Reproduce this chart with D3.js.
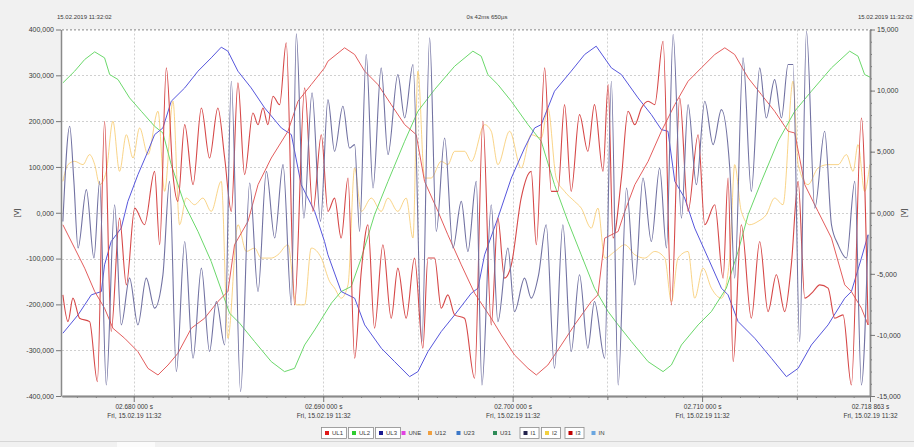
<!DOCTYPE html>
<html>
<head>
<meta charset="utf-8">
<script src="https://cdn.jsdelivr.net/npm/d3@7"></script>
<style>
html, body { margin: 0; padding: 0; background: #f1f1f1; }
svg { display: block; font-family: "Liberation Sans", Arial, sans-serif; }
</style>
</head>
<body>
<div id="chart"></div>
<script>
// time in ms (seconds part of 11:32:02.xxx), voltages in V, currents in A
const UL1 = [[2676.26,-26.2],[2676.88,-77.2],[2677.41,-121],[2677.94,-172],[2678.46,-208.4],[2678.90,-252.1],[2679.52,-274],[2680.22,-303.1],[2680.75,-339.6],[2681.28,-354.1],[2681.81,-332.3],[2682.33,-306.8],[2683.04,-252.1],[2683.74,-230.3],[2684.44,-193.8],[2684.97,-172],[2685.32,-70],[2686.03,-18.9],[2686.56,61.2],[2687.26,119.5],[2688.14,177.8],[2688.67,243.4],[2689.37,279.8],[2690.07,316.3],[2690.25,330.8],[2691.13,360],[2691.66,345.4],[2692.19,309],[2692.89,279.8],[2693.59,236.1],[2694.30,192.4],[2694.91,170.5],[2695.35,68.5],[2696.06,2.9],[2696.58,-48.1],[2697.29,-113.7],[2697.99,-175.6],[2698.87,-230.3],[2699.40,-266.7],[2700.10,-310.4],[2700.81,-339.6],[2701.25,-354.1],[2701.86,-332.3],[2702.57,-288.6],[2703.27,-244.8],[2704.15,-193.8],[2704.50,-179.2],[2704.86,-55.4],[2705.57,-40.8],[2705.92,2.9],[2706.45,61.2],[2707.15,112.2],[2707.85,177.8],[2708.56,236.1],[2709.26,287.1],[2709.96,316.3],[2710.67,345.4],[2711.20,360],[2711.72,345.4],[2712.43,294.4],[2713.13,258],[2713.83,221.5],[2714.54,177.8],[2714.89,174.2],[2715.42,61.2],[2716.12,2.9],[2716.83,-55.4],[2717.53,-157.4],[2717.88,-172],[2718.41,-208.4],[2718.76,-244.8]];

const UL2 = [[2676.26,283.5],[2676.88,309],[2677.41,334.5],[2677.94,351.2],[2678.46,338.1],[2678.73,301.7],[2679.17,290.8],[2679.78,250.7],[2680.40,221.5],[2681.10,188.7],[2681.54,174.2],[2681.98,105],[2682.69,17.5],[2683.39,-40.8],[2684.09,-106.4],[2684.62,-168.3],[2685.06,-219.3],[2685.59,-241.2],[2686.38,-281.3],[2687.26,-325],[2687.96,-346.8],[2688.49,-339.6],[2689.02,-288.6],[2689.55,-255.8],[2690.43,-197.5],[2690.95,-172],[2691.48,-161],[2692.01,-99.1],[2692.71,-4.4],[2693.42,68.5],[2694.30,156],[2695.00,221.5],[2695.88,268.9],[2696.94,319.9],[2697.90,352.7],[2698.34,341.8],[2698.69,301.7],[2699.22,279.8],[2699.93,243.4],[2700.81,192.4],[2701.51,156],[2702.21,61.2],[2702.92,-18.9],[2703.62,-91.8],[2704.32,-164.7],[2705.04,-215.7],[2705.57,-244.8],[2706.27,-281.3],[2707.15,-325],[2707.94,-346.8],[2708.38,-332.3],[2708.91,-288.6],[2709.79,-244.8],[2710.49,-215.7],[2711.28,-164.7],[2711.90,-84.5],[2712.43,-4.4],[2713.13,68.5],[2714.01,156],[2714.89,221.5],[2715.77,265.3],[2716.83,316.3],[2717.79,352.7],[2718.23,341.8],[2718.58,301.7],[2718.94,294.4]];

const UL3 = [[2676.26,-263],[2677.06,-223],[2677.76,-179.2],[2678.29,-172],[2678.46,-113.7],[2678.81,-62.7],[2679.34,-33.5],[2679.69,24.8],[2680.22,83.1],[2680.75,134.1],[2681.10,170.5],[2681.54,185.1],[2681.98,243.4],[2682.69,272.5],[2683.39,309],[2684.09,338.1],[2684.62,361.4],[2684.97,352.7],[2685.50,309],[2686.20,272.5],[2686.91,228.8],[2687.79,185.1],[2688.32,170.5],[2688.84,61.2],[2689.55,2.9],[2690.07,-62.7],[2690.25,-91.8],[2690.95,-172],[2691.66,-186.5],[2692.19,-244.8],[2693.07,-295.8],[2693.77,-325],[2694.56,-357.8],[2695.00,-346.8],[2695.53,-303.1],[2696.23,-259.4],[2696.94,-223],[2697.82,-175.6],[2698.17,-164.7],[2698.52,-91.8],[2699.22,-11.6],[2699.93,75.8],[2700.63,141.4],[2701.16,185.1],[2701.51,192.4],[2702.21,265.3],[2703.09,309],[2703.80,345.4],[2704.41,363.6],[2705.21,316.3],[2705.74,301.7],[2706.62,250.7],[2707.32,214.3],[2707.85,181.5],[2708.20,177.8],[2708.56,68.5],[2709.08,32.1],[2709.61,-33.5],[2710.32,-99.1],[2711.02,-164.7],[2711.37,-179.2],[2711.90,-237.5],[2712.78,-274],[2713.66,-317.7],[2714.45,-357.8],[2715.07,-339.6],[2715.77,-288.6],[2716.65,-244.8],[2717.53,-186.5],[2717.88,-172],[2718.41,-99.1],[2718.76,-48.1]];

const I1 = [[2676.26,-0.71],[2676.62,7.08],[2676.84,2.57],[2677.06,-2.89],[2677.50,1.89],[2677.90,-3.71],[2678.20,2.57],[2678.55,-14.10],[2678.99,0.66],[2679.34,-9.18],[2679.78,-5.35],[2680.22,-9.18],[2680.66,-5.35],[2681.10,-7.81],[2681.54,-5.08],[2681.89,2.57],[2682.25,-13.00],[2682.69,-2.35],[2683.13,-11.91],[2683.57,-4.53],[2684.00,-11.36],[2684.36,-7.27],[2684.80,-10.82],[2685.15,10.77],[2685.64,-14.64],[2686.12,2.43],[2686.56,-6.45],[2687.00,3.39],[2687.44,-2.07],[2687.88,3.94],[2688.32,-7.54],[2688.58,14.64],[2688.98,-0.44],[2689.41,9.81],[2689.86,-0.71],[2690.25,9.26],
  [2690.60,5.03],[2691.04,8.72],[2691.39,5.30],[2691.66,5.58],[2691.92,-1.53],[2692.27,12.95],[2692.63,2.02],[2693.06,11.86],[2693.42,4.76],[2693.94,11.31],[2694.30,7.76],[2694.74,12.13],[2695.21,-10.55],[2695.62,14.32],[2695.97,-1.53],[2696.41,6.12],[2696.85,-2.89],[2697.29,0.93],[2697.64,-3.17],[2698.08,2.57],[2698.38,-14.10],[2698.87,0.66],[2699.22,-8.91],[2699.75,-2.89],[2700.10,-8.09],[2700.63,-5.35],[2700.98,-6.99],[2701.37,-5.08],[2701.77,-0.98],[2702.21,-12.73],[2702.65,-0.98],[2703.09,-11.36],[2703.53,-5.08],[2703.97,-11.09],[2704.32,-7.27],
  [2704.86,-11.91],[2705.21,10.77],[2705.57,-14.10],[2706.01,2.02],[2706.45,-5.90],[2706.88,2.84],[2707.32,-2.35],[2707.76,3.66],[2708.12,-2.89],[2708.47,14.59],[2708.91,-0.44],[2709.26,8.85],[2709.70,2.30],[2710.14,9.13],[2710.58,5.58],[2711.02,8.44],[2711.46,3.66],[2711.72,-5.35],[2712.16,12.68],[2712.60,1.75],[2713.04,11.86],[2713.39,7.76],[2713.83,10.90],[2714.19,7.76],[2714.54,12.13],[2714.80,12.13],[2715.15,-10.55],[2715.51,14.86],[2715.95,0.38],[2716.47,6.67],[2716.83,-0.98],[2717.18,-2.62],[2717.62,-3.71],[2718.06,2.57],[2718.41,-14.10],[2718.76,-1.80]];

const I2 = [[2676.26,2.57],[2676.53,3.94],[2676.88,4.21],[2677.32,3.94],[2677.67,4.76],[2677.94,3.94],[2678.20,2.30],[2678.55,3.39],[2678.90,7.49],[2679.25,3.39],[2679.61,6.39],[2679.96,4.48],[2680.31,6.94],[2680.75,4.76],[2681.28,8.31],[2681.63,1.75],[2682.07,9.13],[2682.42,-0.98],[2682.77,1.20],[2683.21,0.66],[2683.65,1.20],[2684.09,0.11],[2684.62,2.57],[2684.97,-10.27],[2685.50,-0.98],[2685.94,-3.17],[2686.38,-2.89],[2686.73,-3.71],[2687.26,-3.71],[2687.61,-3.44],[2688.14,-2.62],[2688.58,-7.54],[2689.02,-7.54],[2689.37,-2.89],[2689.90,-3.71],[2690.34,-5.63],
  [2690.60,-6.17],[2690.95,-6.99],[2691.31,-5.90],[2691.66,3.66],[2692.01,0.11],[2692.54,1.20],[2693.06,0.11],[2693.42,1.20],[2693.94,0.11],[2694.38,1.20],[2694.74,-2.07],[2695.00,11.59],[2695.35,2.84],[2695.70,2.84],[2696.23,4.21],[2696.58,3.94],[2696.94,5.03],[2697.46,5.03],[2697.82,4.21],[2698.52,7.21],[2698.87,6.67],[2699.22,3.94],[2699.84,6.67],[2700.45,3.66],[2700.98,6.39],[2701.51,6.12],[2701.86,8.58],[2702.30,2.84],[2702.74,1.75],[2703.27,0.93],[2703.62,0.38],[2704.15,-1.26],[2704.50,0.38],
  [2704.86,-3.71],[2705.39,-3.17],[2705.92,-2.62],[2706.45,-3.44],[2706.97,-3.71],[2707.50,-3.17],[2708.03,-3.71],[2708.38,-7.27],[2708.73,-3.71],[2709.26,-3.17],[2709.61,-6.99],[2710.05,-4.53],[2710.49,-6.17],[2711.02,-6.99],[2711.46,-3.71],[2711.72,3.94],[2712.07,0.11],[2712.51,-0.98],[2712.95,-0.71],[2713.39,-0.16],[2713.83,1.20],[2714.27,0.66],[2714.80,10.77],[2715.07,3.94],[2715.59,2.30],[2716.12,3.66],[2716.65,3.94],[2717.18,3.94],[2717.62,4.76],[2717.97,3.39],[2718.23,5.58],[2718.58,1.75],[2718.85,3.94]];

const I3 = [[2676.26,-6.72],[2676.53,-8.91],[2676.79,-6.99],[2677.14,-8.63],[2677.67,-8.91],[2678.08,-13.82],[2678.46,7.49],[2678.81,-9.72],[2679.25,-0.44],[2679.61,-5.90],[2680.05,0.38],[2680.57,-0.98],[2681.10,3.39],[2681.37,-2.62],[2681.72,11.86],[2682.07,3.12],[2682.33,0.93],[2682.69,7.21],[2683.13,2.30],[2683.57,8.58],[2684.00,4.48],[2684.44,8.58],[2684.80,4.48],[2685.15,0.11],[2685.50,10.63],[2685.85,3.12],[2686.29,8.17],[2686.56,7.21],[2686.82,8.58],[2687.08,7.21],[2687.35,9.54],[2687.70,8.85],[2688.05,13.91],[2688.49,-7.54],[2689.02,10.22],[2689.46,0.11],[2689.90,6.39],[2690.25,0.11],
  [2690.60,1.20],[2690.95,-2.07],[2691.31,2.84],[2691.66,-11.91],[2692.01,-4.81],[2692.36,-0.98],[2692.71,-9.45],[2693.15,-2.62],[2693.59,-8.63],[2693.94,-4.53],[2694.38,-8.63],[2694.82,-3.71],[2695.26,-11.09],[2695.53,-3.71],[2695.88,-3.71],[2696.23,-7.81],[2696.58,-6.72],[2696.94,-8.36],[2697.46,-8.63],[2697.99,-13.55],[2698.43,7.49],[2698.87,-9.18],[2699.22,-0.44],[2699.57,-5.35],[2699.93,-4.26],[2700.45,1.20],[2700.98,3.39],[2701.25,-2.62],[2701.69,11.86],[2702.04,1.75],[2702.39,1.75],[2702.74,8.85],[2703.09,1.75],[2703.53,8.03],[2703.97,5.03],[2704.32,8.85],
  [2704.77,3.39],[2705.04,10.49],[2705.30,-2.07],[2705.74,2.84],[2706.09,8.31],[2706.45,7.21],[2706.80,8.58],[2707.15,9.13],[2707.50,8.85],[2707.94,14.04],[2708.38,-7.54],[2708.82,9.40],[2709.26,0.11],[2709.79,6.39],[2710.14,-0.98],[2710.67,0.66],[2711.11,-5.35],[2711.37,2.84],[2711.64,-12.18],[2712.07,-0.98],[2712.60,-8.63],[2713.04,-2.35],[2713.48,-8.09],[2713.92,-5.08],[2714.36,-8.09],[2714.71,-4.26],[2715.07,2.57],[2715.42,-6.99],[2715.86,-6.45],[2716.21,-5.90],[2716.65,-6.17],[2717.00,-8.63],[2717.44,-8.36],[2717.88,-14.10],[2718.41,7.76],[2718.76,-9.18]];

const timeStart = 2676.213;
const timeEnd = 2718.863;
const timeTicks = [2680, 2690, 2700, 2710, 2718.863];
const voltTicks = [-400, -300, -200, -100, 0, 100, 200, 300, 400];
const ampTicks = [-15, -10, -5, 0, 5, 10, 15];
const dateLabel = "Fri, 15.02.19 11:32";

const legendNames = ["UL1", "UL2", "UL3", "UNE", "U12", "U23", "U31", "I1", "I2", "I3", "IN"];
const legendColors = ["#e01818", "#2fcc2f", "#1a1a90", "#e040e0", "#f0a040", "#3c78c8", "#2e8b57", "#24244e", "#f2d040", "#c00000", "#6aa6e0"];
const legendShown = [true, true, true, false, false, false, false, true, true, true, false];

const width = 914, height = 447;
const plot = { left: 62, right: 870, top: 29.5, bottom: 396 };

const svg = d3.select("#chart").append("svg")
  .attr("width", width).attr("height", height);

svg.append("rect").attr("width", width).attr("height", height).attr("fill", "#f1f1f1");
svg.append("rect")
  .attr("x", plot.left).attr("y", plot.top)
  .attr("width", plot.right - plot.left).attr("height", plot.bottom - plot.top)
  .attr("fill", "#ffffff");

const x = d3.scaleLinear().domain([timeStart, timeEnd]).range([plot.left, plot.right]);
const yV = d3.scaleLinear().domain([-400, 400]).range([plot.bottom, plot.top]);
const yI = d3.scaleLinear().domain([-15, 15]).range([plot.bottom, plot.top]);

const loc = d3.formatLocale({ decimal: ",", thousands: ".", grouping: [3], currency: ["", ""], minus: "-" });
const fmtVal = loc.format(".3f");

function fmtTime(t) {
  const s = t / 1000;
  const whole = Math.floor(s);
  const f = String(Math.round((s - whole) * 1e6)).padStart(6, "0");
  return String(whole).padStart(2, "0") + "." + f.slice(0, 3) + " " + f.slice(3) + " s";
}

// grid
const grid = svg.append("g").attr("stroke", "#c4c4c4").attr("stroke-dasharray", "2,2").attr("stroke-width", 0.8);
grid.selectAll("line.h").data(voltTicks.filter(v => v > -400)).enter().append("line")
  .attr("x1", plot.left).attr("x2", plot.right)
  .attr("y1", d => Math.round(yV(d)) + 0.5).attr("y2", d => Math.round(yV(d)) + 0.5);
grid.selectAll("line.v").data(d3.range(2680, 2716, 5)).enter().append("line")
  .attr("y1", plot.top).attr("y2", plot.bottom)
  .attr("x1", d => Math.round(x(d)) + 0.5).attr("x2", d => Math.round(x(d)) + 0.5);

// curves
svg.append("clipPath").attr("id", "clip").append("rect")
  .attr("x", plot.left).attr("y", plot.top)
  .attr("width", plot.right - plot.left).attr("height", plot.bottom - plot.top);

const g = svg.append("g").attr("clip-path", "url(#clip)").attr("fill", "none");

const lineV = d3.line().x(d => x(d[0])).y(d => yV(d[1]));
const lineI = d3.line().x(d => x(d[0])).y(d => yI(d[1])).curve(d3.curveMonotoneX);

g.append("path").datum(I2).attr("d", lineI).attr("stroke", "#f7c560").attr("stroke-opacity", 0.75).attr("stroke-width", 1);
g.append("path").datum(UL2).attr("d", lineV).attr("stroke", "#6bd86b").attr("stroke-width", 1);
g.append("path").datum(UL3).attr("d", lineV).attr("stroke", "#5656dc").attr("stroke-width", 1);
g.append("path").datum(UL1).attr("d", lineV).attr("stroke", "#e35d5d").attr("stroke-width", 1);
g.append("path").datum(I3).attr("d", lineI).attr("stroke", "#d64848").attr("stroke-width", 1.1);
g.append("path").datum(I1).attr("d", lineI).attr("stroke", "#7272a2").attr("stroke-width", 1.1);

// top border
svg.append("line").attr("x1", plot.left).attr("x2", plot.right).attr("y1", plot.top).attr("y2", plot.top)
  .attr("stroke", "#b0b0b0").attr("stroke-dasharray", "2,2");

// axes
function styleAxis(sel) {
  sel.select(".domain").attr("stroke", "#8a8a8a").attr("stroke-width", 1.5);
  sel.selectAll(".tick line").attr("stroke", "#777");
  sel.selectAll("text").attr("fill", "#3a3a3a").attr("font-size", "7px");
}

svg.append("g").attr("transform", `translate(${plot.left - 1},0)`)
  .call(d3.axisLeft(yV).tickValues(voltTicks).tickSize(5).tickPadding(2).tickFormat(fmtVal).tickSizeOuter(0))
  .call(styleAxis);

svg.append("g").attr("transform", `translate(${plot.right},0)`)
  .call(d3.axisRight(yI).tickValues(d3.range(-15, 15.1, 1)).tickSize(2).tickFormat("").tickSizeOuter(0))
  .call(styleAxis);
svg.append("g").attr("transform", `translate(${plot.right},0)`)
  .call(d3.axisRight(yI).tickValues(ampTicks).tickSize(5).tickPadding(2).tickFormat(fmtVal).tickSizeOuter(0))
  .call(styleAxis);

svg.append("g").attr("transform", `translate(0,${plot.bottom})`)
  .call(d3.axisBottom(x).tickValues(d3.range(2677, 2719, 1)).tickSize(2).tickFormat("").tickSizeOuter(0))
  .call(styleAxis);
svg.append("g").attr("transform", `translate(0,${plot.bottom})`)
  .call(d3.axisBottom(x).tickValues([2685, 2695, 2705, 2715]).tickSize(4).tickFormat("").tickSizeOuter(0))
  .call(styleAxis);
const xAxis = svg.append("g").attr("transform", `translate(0,${plot.bottom})`)
  .call(d3.axisBottom(x).tickValues(timeTicks).tickSize(6).tickFormat("").tickSizeOuter(0))
  .call(styleAxis);

xAxis.selectAll(".tick").each(function (d) {
  const t = d3.select(this).append("text")
    .attr("fill", "#3a3a3a").attr("font-size", "6.5px").attr("text-anchor", "middle");
  t.append("tspan").attr("x", 0).attr("y", 13).text(fmtTime(d));
  t.append("tspan").attr("x", 0).attr("y", 22).text(dateLabel);
});

// unit labels
svg.append("text").attr("transform", "translate(19,213) rotate(-90)")
  .attr("text-anchor", "middle").attr("font-size", "7px").attr("fill", "#3a3a3a").text("[V]");
svg.append("text").attr("transform", "translate(906,213) rotate(-90)")
  .attr("text-anchor", "middle").attr("font-size", "7px").attr("fill", "#3a3a3a").text("[V]");

// header
svg.append("text").attr("x", 57).attr("y", 19).attr("font-size", "6px").attr("fill", "#3a3a3a").text("15.02.2019 11:32:02");
svg.append("text").attr("x", 487).attr("y", 19).attr("text-anchor", "middle").attr("font-size", "6px").attr("fill", "#3a3a3a").text("0s 42ms 650µs");
svg.append("text").attr("x", 858).attr("y", 19).attr("font-size", "6px").attr("fill", "#3a3a3a").text("15.02.2019 11:32:02");

// legend
const legendX = [327, 354, 381, 403.5, 430, 458.5, 495, 525.5, 547, 570.5, 593.5];
const lg = svg.append("g");
legendNames.forEach((name, i) => {
  const item = lg.append("g").attr("transform", `translate(${legendX[i]},433)`);
  const label = item.append("text").attr("x", 5).attr("y", 2.3)
    .attr("font-size", "6px").attr("fill", "#3a3a3a").text(name);
  const w = label.node().getComputedTextLength();
  if (legendShown[i]) {
    item.insert("rect", "text").attr("x", -5.5).attr("y", -5.5).attr("width", w + 14).attr("height", 11)
      .attr("fill", "#ffffff").attr("stroke", "#8c8c8c").attr("stroke-width", 0.8);
  }
  item.append("rect").attr("x", -2).attr("y", -2).attr("width", 4).attr("height", 4).attr("fill", legendColors[i]);
});

// status strip
svg.append("line").attr("x1", 0).attr("x2", width).attr("y1", 441.5).attr("y2", 441.5).attr("stroke", "#d6d6d6");
svg.append("rect").attr("x", 117).attr("y", 442).attr("width", 38).attr("height", 5).attr("fill", "#fbfbfb");
</script>
</body>
</html>
